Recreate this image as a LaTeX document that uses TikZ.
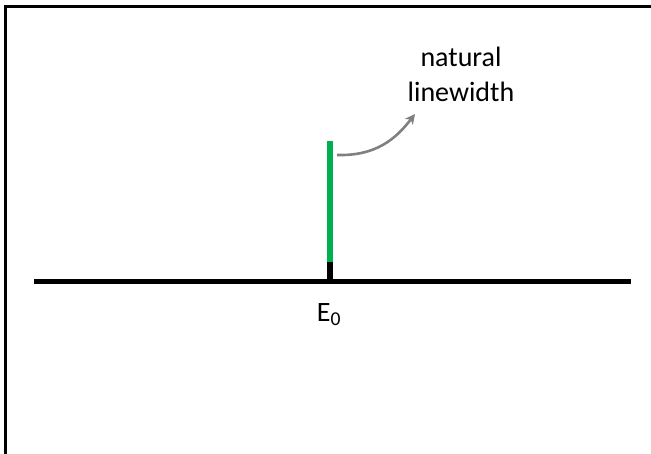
\documentclass[tikz,border=0pt]{standalone}
\usepackage{fontspec}
\setmainfont{Carlito}
\usetikzlibrary{arrows.meta}
\definecolor{lwgreen}{RGB}{0,176,80}
\definecolor{arrgray}{RGB}{128,128,128}
\tikzset{
  lbl/.style={inner sep=0pt, font=\fontsize{28}{35}\selectfont, align=center},
  axisline/.style={line width=5pt},
  curvearrow/.style={draw=arrgray, line width=2.6pt, -{Stealth[length=10pt,width=10pt,inset=3pt]}}
}
\begin{document}
\begin{tikzpicture}[x=1pt,y=-1pt]
\useasboundingbox (0,0) rectangle (651,453);
\begin{scope}
\clip (0,0) rectangle (651,453);
\draw[line width=2.6pt] (5.5,470) -- (5.5,6.2) -- (670,6.2);
\end{scope}
% axis
\coordinate (axl) at (34,281);
\coordinate (axr) at (631,281);
\draw[axisline] (axl) -- (axr);
% stem
\coordinate (sbase) at (330,281);
\coordinate (sjoin) at (330,262);
\coordinate (stop) at (330,141);
\draw[line width=6pt] (sbase) -- (sjoin);
\draw[line width=6pt, lwgreen] (sjoin) -- (stop);
% labels
\node[lbl, anchor=base] (e0) at (329,321.7) {E\textsubscript{0}};
\node[lbl, anchor=base] (nat) at (461,101.7) {natural\\linewidth};
% arrow
\coordinate (astart) at (337,155);
\coordinate (aend) at (415,114);
\draw[curvearrow] (astart) .. controls (375,156) and (395,140) .. (aend);
\end{tikzpicture}
\end{document}
